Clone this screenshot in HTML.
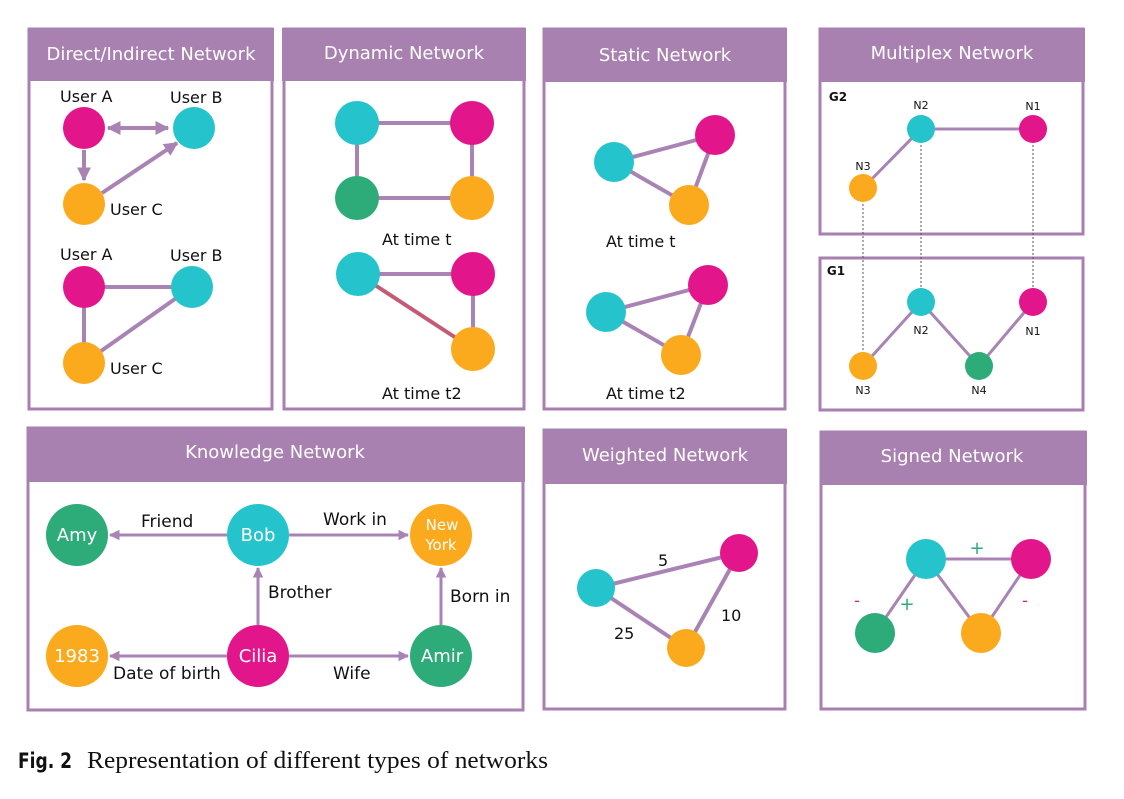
<!DOCTYPE html>
<html><head><style>
html,body{margin:0;padding:0;background:#fff;}
svg{display:block;}
.h{font-family:"DejaVu Sans","Liberation Sans",sans-serif;font-size:18px;fill:#fff;text-anchor:middle;}
.l{font-family:"DejaVu Sans","Liberation Sans",sans-serif;font-size:16px;fill:#111;}
.k{font-size:17px;}
.s{font-family:"DejaVu Sans","Liberation Sans",sans-serif;font-size:11px;fill:#111;text-anchor:middle;}
.w{font-family:"DejaVu Sans","Liberation Sans",sans-serif;font-size:18px;fill:#fff;text-anchor:middle;}
.e{stroke:#a883b4;stroke-width:4;fill:none;}
.d{stroke:#555;stroke-width:1;stroke-dasharray:2,2;fill:none;}
.bx{fill:#fff;stroke:#a97fb2;stroke-width:3;}
.hd{fill:#a981b1;}
</style></head><body>
<svg width="1124" height="799" viewBox="0 0 1124 799" xmlns="http://www.w3.org/2000/svg">
<defs>
<marker id="ar" viewBox="0 0 10 10" refX="9" refY="5" markerWidth="3.5" markerHeight="3.5" orient="auto-start-reverse"><path d="M0,0 L10,5 L0,10 z" fill="#a883b4"/></marker>
</defs>
<!-- Panel 1 -->
<rect class="bx" x="29" y="29" width="243" height="380"/><rect class="hd" x="28" y="28" width="246" height="53"/>
<text class="h" x="151" y="60">Direct/Indirect Network</text>
<line class="e" x1="108" y1="128" x2="168" y2="128" marker-start="url(#ar)" marker-end="url(#ar)"/>
<line class="e" x1="84" y1="150" x2="84" y2="180" marker-end="url(#ar)"/>
<line class="e" x1="102" y1="193" x2="177" y2="143" marker-end="url(#ar)"/>
<circle cx="84" cy="128" r="21" fill="#e3158a"/><circle cx="194" cy="128" r="21" fill="#25c4cc"/><circle cx="84" cy="204" r="21" fill="#fcaa1d"/>
<text class="l" x="60" y="102">User A</text><text class="l" x="170" y="103">User B</text><text class="l" x="110" y="215">User C</text>
<line class="e" x1="84" y1="287" x2="192" y2="287"/><line class="e" x1="84" y1="287" x2="84" y2="363"/><line class="e" x1="84" y1="363" x2="192" y2="287"/>
<circle cx="84" cy="287" r="21" fill="#e3158a"/><circle cx="192" cy="287" r="21" fill="#25c4cc"/><circle cx="84" cy="363" r="21" fill="#fcaa1d"/>
<text class="l" x="60" y="260">User A</text><text class="l" x="170" y="261">User B</text><text class="l" x="110" y="374">User C</text>
<!-- Panel 2 -->
<rect class="bx" x="284" y="29" width="240" height="380"/><rect class="hd" x="282" y="28" width="244" height="53"/>
<text class="h" x="404" y="59">Dynamic Network</text>
<path class="e" d="M357,123 H472 V198 H357 Z"/>
<circle cx="357" cy="123" r="22" fill="#25c4cc"/><circle cx="472" cy="123" r="22" fill="#e3158a"/><circle cx="357" cy="198" r="22" fill="#2dac79"/><circle cx="472" cy="198" r="22" fill="#fcaa1d"/>
<text class="l" x="382" y="245">At time t</text>
<path class="e" d="M358,274 H473 V349"/><line x1="358" y1="274" x2="473" y2="349" stroke="#c45a73" stroke-width="4"/>
<circle cx="358" cy="274" r="22" fill="#25c4cc"/><circle cx="473" cy="274" r="22" fill="#e3158a"/><circle cx="473" cy="349" r="22" fill="#fcaa1d"/>
<text class="l" x="382" y="399">At time t2</text>
<!-- Panel 3 -->
<rect class="bx" x="544" y="29" width="241" height="380"/><rect class="hd" x="543" y="28" width="244" height="54"/>
<text class="h" x="665" y="61">Static Network</text>
<path class="e" d="M614,162 L715,135 L689,205 Z"/>
<circle cx="614" cy="162" r="20" fill="#25c4cc"/><circle cx="715" cy="135" r="20" fill="#e3158a"/><circle cx="689" cy="205" r="20" fill="#fcaa1d"/>
<text class="l" x="606" y="247">At time t</text>
<path class="e" d="M606,312 L708,285 L681,355 Z"/>
<circle cx="606" cy="312" r="20" fill="#25c4cc"/><circle cx="708" cy="285" r="20" fill="#e3158a"/><circle cx="681" cy="355" r="20" fill="#fcaa1d"/>
<text class="l" x="606" y="399">At time t2</text>
<!-- Multiplex -->
<rect class="bx" x="820" y="29" width="263" height="205"/><rect class="hd" x="819" y="28" width="266" height="54"/>
<text class="h" x="952" y="59">Multiplex Network</text>
<rect class="bx" x="820" y="258" width="263" height="152"/>
<line class="d" x1="863" y1="188" x2="863" y2="366"/><line class="d" x1="921" y1="129" x2="921" y2="302"/><line class="d" x1="1033" y1="129" x2="1033" y2="302"/>
<path class="e" style="stroke-width:3" d="M863,188 L921,129 H1033"/>
<circle cx="921" cy="129" r="14" fill="#25c4cc"/><circle cx="1033" cy="129" r="14" fill="#e3158a"/><circle cx="863" cy="188" r="14" fill="#fcaa1d"/>
<text class="s" x="838" y="101" style="font-weight:bold;font-size:12px">G2</text>
<text class="s" x="921" y="109">N2</text><text class="s" x="1033" y="110">N1</text><text class="s" x="863" y="170">N3</text>
<path class="e" style="stroke-width:3" d="M863,366 L921,302 L979,366 L1033,302"/>
<circle cx="921" cy="302" r="14" fill="#25c4cc"/><circle cx="1033" cy="302" r="14" fill="#e3158a"/><circle cx="863" cy="366" r="14" fill="#fcaa1d"/><circle cx="979" cy="366" r="14" fill="#2dac79"/>
<text class="s" x="836" y="275" style="font-weight:bold;font-size:12px">G1</text>
<text class="s" x="921" y="334">N2</text><text class="s" x="1033" y="335">N1</text><text class="s" x="863" y="394">N3</text><text class="s" x="979" y="394">N4</text>
<!-- Knowledge -->
<rect class="bx" x="28" y="428" width="495" height="282"/><rect class="hd" x="27" y="427" width="498" height="55"/>
<text class="h" x="275" y="458">Knowledge Network</text>
<line class="e" style="stroke-width:3" x1="227" y1="535" x2="110" y2="535" marker-end="url(#ar)"/>
<line class="e" style="stroke-width:3" x1="289" y1="535" x2="408" y2="535" marker-end="url(#ar)"/>
<line class="e" style="stroke-width:3" x1="258" y1="625" x2="258" y2="568" marker-end="url(#ar)"/>
<line class="e" style="stroke-width:3" x1="441" y1="625" x2="441" y2="568" marker-end="url(#ar)"/>
<line class="e" style="stroke-width:3" x1="227" y1="656" x2="110" y2="656" marker-end="url(#ar)"/>
<line class="e" style="stroke-width:3" x1="289" y1="656" x2="408" y2="656" marker-end="url(#ar)"/>
<circle cx="77" cy="535" r="31" fill="#2dac79"/><circle cx="258" cy="535" r="31" fill="#25c4cc"/><circle cx="441" cy="535" r="31" fill="#fcaa1d"/>
<circle cx="77" cy="656" r="31" fill="#fcaa1d"/><circle cx="258" cy="656" r="31" fill="#e3158a"/><circle cx="441" cy="656" r="31" fill="#2dac79"/>
<text class="w" x="77" y="541">Amy</text><text class="w" x="258" y="541">Bob</text>
<text class="w" x="442" y="530" style="font-size:15px">New</text><text class="w" x="441" y="550" style="font-size:15px">York</text>
<text class="w" x="77" y="662">1983</text><text class="w" x="258" y="662">Cilia</text><text class="w" x="442" y="662">Amir</text>
<text class="l k" x="141" y="527">Friend</text><text class="l k" x="323" y="525">Work in</text><text class="l k" x="268" y="598">Brother</text><text class="l k" x="450" y="602">Born in</text>
<text class="l k" x="113" y="679">Date of birth</text><text class="l k" x="333" y="679">Wife</text>
<!-- Weighted -->
<rect class="bx" x="544" y="430" width="241" height="279"/><rect class="hd" x="543" y="429" width="244" height="55"/>
<text class="h" x="665" y="461">Weighted Network</text>
<path class="e" d="M596,588 L739,553 L686,648 Z"/>
<circle cx="596" cy="588" r="19" fill="#25c4cc"/><circle cx="739" cy="553" r="19" fill="#e3158a"/><circle cx="686" cy="648" r="19" fill="#fcaa1d"/>
<text class="l" x="658" y="566">5</text><text class="l" x="721" y="621">10</text><text class="l" x="614" y="639">25</text>
<!-- Signed -->
<rect class="bx" x="821" y="432" width="264" height="277"/><rect class="hd" x="820" y="431" width="267" height="54"/>
<text class="h" x="952" y="462">Signed Network</text>
<path class="e" style="stroke-width:3" d="M875,633 L926,559 H1031 L981,633 L926,559"/>
<circle cx="926" cy="559" r="20" fill="#25c4cc"/><circle cx="1031" cy="559" r="20" fill="#e3158a"/><circle cx="875" cy="633" r="20" fill="#2dac79"/><circle cx="981" cy="633" r="20" fill="#fcaa1d"/>
<text class="l" x="977" y="554" style="fill:#2dac79;text-anchor:middle;font-size:18px">+</text>
<text class="l" x="907" y="610" style="fill:#2dac79;text-anchor:middle;font-size:18px">+</text>
<text class="l" x="857" y="606" style="fill:#e3158a;text-anchor:middle;font-size:16px">-</text>
<text class="l" x="1025" y="606" style="fill:#e3158a;text-anchor:middle;font-size:16px">-</text>
<!-- Caption -->
<text x="18" y="768" textLength="54" lengthAdjust="spacingAndGlyphs" style="font-family:'DejaVu Sans','Liberation Sans',sans-serif;font-weight:bold;font-size:21px;fill:#111">Fig. 2</text>
<text x="87" y="768" textLength="461" lengthAdjust="spacingAndGlyphs" style="font-family:'Liberation Serif',serif;font-size:24px;fill:#111">Representation of different types of networks</text>
</svg>
</body></html>
